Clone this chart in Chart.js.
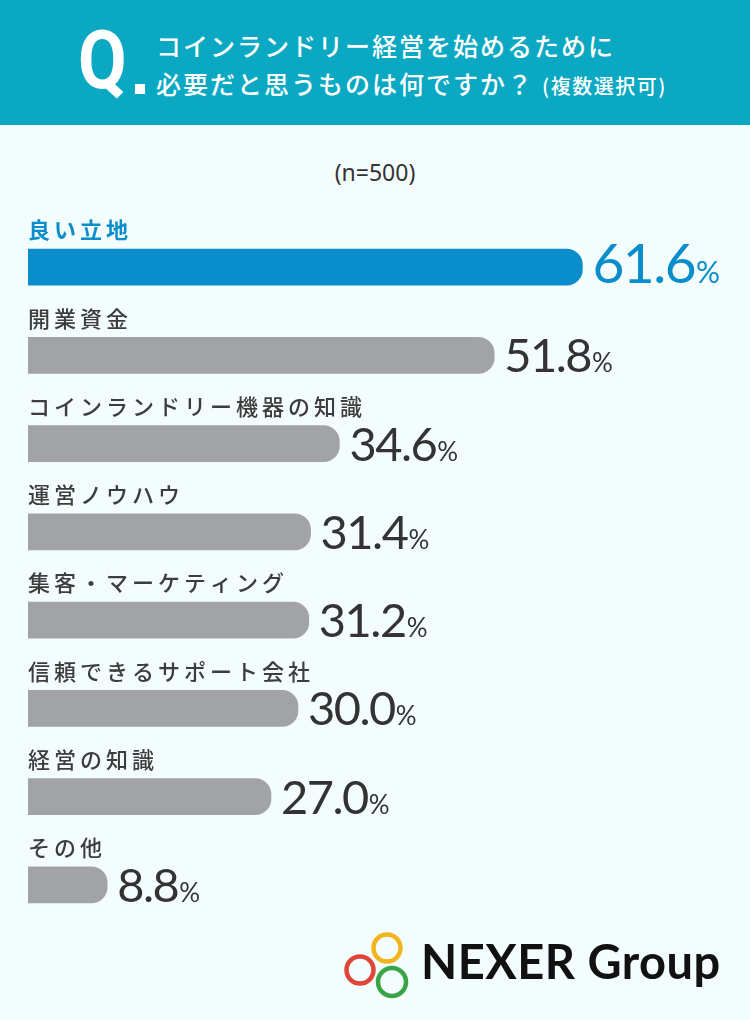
<!DOCTYPE html>
<html lang="ja">
<head>
<meta charset="utf-8">
<title>コインランドリー経営に必要なもの</title>
<script src="https://cdn.jsdelivr.net/npm/chart.js@4.4.1/dist/chart.umd.min.js"></script>
<style>
  html, body { margin: 0; padding: 0; }
  body { width: 750px; height: 1020px; background: #f4fdfe; position: relative; overflow: hidden; }
  .header { position: absolute; left: 0; top: 0; width: 750px; height: 125px; background: #0aa8c2; color: #fff; }
  .q { position: absolute; left: 78px; top: 19px; font: bold 82px Roboto, sans-serif; line-height: 82px; transform: scaleX(0.86); transform-origin: left top; }
  .dot { position: absolute; left: 135px; top: 84px; width: 10px; height: 10px; background: #fff; }
  .title { position: absolute; left: 156px; font-family: "Noto Sans CJK JP", sans-serif; font-weight: 500; font-size: 25px; letter-spacing: 2px; white-space: nowrap; line-height: 30px; }
  .title.l1 { top: 30px; }
  .title.l2 { top: 68px; }
  .title small { font-size: 20px; letter-spacing: 1.5px; margin-left: 8px; }
  .n { position: absolute; left: 0; top: 156px; width: 750px; text-align: center; font: 23px "Noto Sans", sans-serif; color: #333; }
  #chart { position: absolute; left: 0; top: 0; }
  .logo { position: absolute; left: 340px; top: 925px; width: 400px; height: 80px; }
  .logo-text { position: absolute; left: 81px; top: 8px; font: bold 47px Lato, sans-serif; color: #111; white-space: nowrap; letter-spacing: 0.5px; }
</style>
</head>
<body>
<div class="header">
  <div class="q">Q</div>
  <div class="dot"></div>
  <div class="title l1">コインランドリー経営を始めるために</div>
  <div class="title l2">必要だと思うものは何ですか？<small>(複数選択可)</small></div>
</div>
<div class="n">(n=500)</div>
<canvas id="chart" width="750" height="1020"></canvas>
<div class="logo">
  <svg width="80" height="80" viewBox="0 0 80 80">
    <circle cx="47" cy="23" r="13.5" fill="none" stroke="#f2b51d" stroke-width="4.5"/>
    <circle cx="20" cy="45" r="13.5" fill="none" stroke="#e0453a" stroke-width="4.5"/>
    <circle cx="52" cy="57" r="14" fill="none" stroke="#3aa447" stroke-width="4.5"/>
  </svg>
  <div class="logo-text">NEXER Group</div>
</div>
<script>
const categories = [
  '良い立地',
  '開業資金',
  'コインランドリー機器の知識',
  '運営ノウハウ',
  '集客・マーケティング',
  '信頼できるサポート会社',
  '経営の知識',
  'その他'
];
const values = [61.6, 51.8, 34.6, 31.4, 31.2, 30.0, 27.0, 8.8];
const unit = '%';

const BLUE = '#0a8ecb';
const GRAY = '#a1a3a7';

// ラベルと数値をバーの上・右に描く
const labelPlugin = {
  id: 'barLabels',
  afterDatasetsDraw(chart) {
    const ctx = chart.ctx;
    const meta = chart.getDatasetMeta(0);
    const left = chart.chartArea.left;
    meta.data.forEach((bar, i) => {
      const first = i === 0;
      ctx.save();
      // カテゴリ名
      ctx.fillStyle = first ? BLUE : '#3d3d3d';
      ctx.font = (first ? '700' : '500') + ' 22px "Noto Sans CJK JP", sans-serif';
      ctx.letterSpacing = '4px';
      ctx.textBaseline = 'middle';
      ctx.textAlign = 'left';
      ctx.fillText(categories[i], left, bar.y - 37);

      // 数値
      const numSize = first ? 55 : 47;
      const pctSize = first ? 30 : 26;
      const color = first ? BLUE : '#333333';
      const x = bar.x + 10;
      const y = bar.y + (first ? 16 : 17);
      ctx.fillStyle = color;
      ctx.textBaseline = 'alphabetic';
      ctx.letterSpacing = '-1.5px';
      ctx.font = '400 ' + numSize + 'px Lato, sans-serif';
      const txt = values[i].toFixed(1);
      ctx.fillText(txt, x, y);
      const w = ctx.measureText(txt).width;
      ctx.letterSpacing = '0px';
      ctx.font = '400 ' + pctSize + 'px Lato, sans-serif';
      ctx.fillText(unit, x + w + 1, y);
      ctx.restore();
    });
  }
};

new Chart(document.getElementById('chart'), {
  type: 'bar',
  data: {
    labels: categories,
    datasets: [{
      data: values,
      backgroundColor: ctx => ctx.dataIndex === 0 ? BLUE : GRAY,
      borderRadius: { topLeft: 0, bottomLeft: 0, topRight: 16, bottomRight: 16 },
      borderSkipped: 'start',
      barThickness: 36
    }]
  },
  options: {
    indexAxis: 'y',
    responsive: false,
    animation: false,
    layout: { padding: { top: 223, bottom: 91, left: 28, right: 92 } },
    scales: {
      x: { display: false, min: 0, max: 70 },
      y: { display: false }
    },
    plugins: {
      legend: { display: false },
      tooltip: { enabled: false }
    }
  },
  plugins: [labelPlugin]
});
</script>
</body>
</html>
